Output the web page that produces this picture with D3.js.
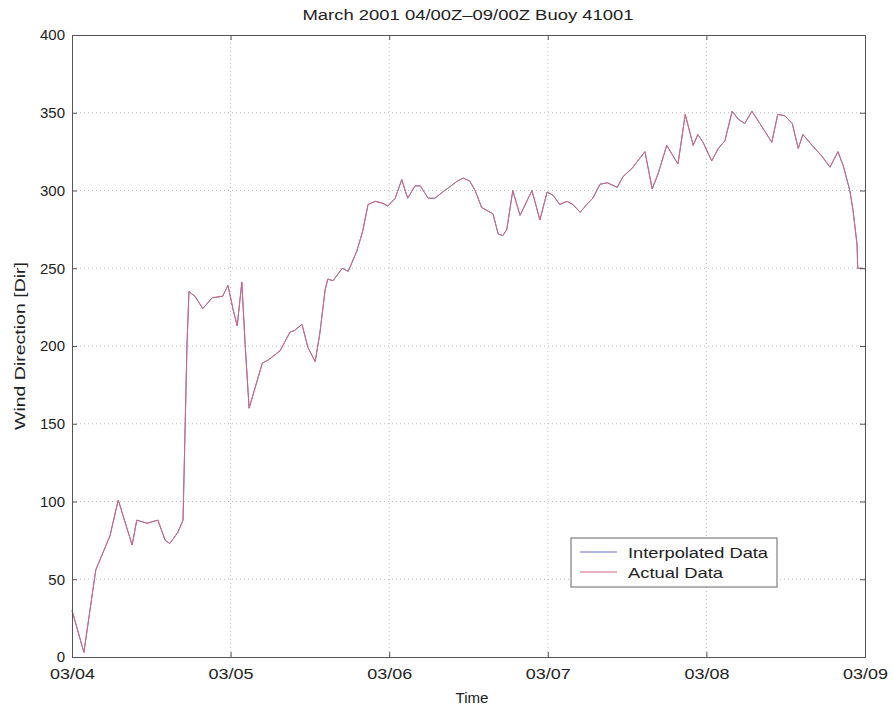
<!DOCTYPE html>
<html>
<head>
<meta charset="utf-8">
<script src="https://cdn.jsdelivr.net/npm/d3@7"></script>
<style>
body{margin:0;background:#fff;}
text{font-family:"Liberation Sans",Arial,sans-serif;fill:#222;}
</style>
</head>
<body>
<svg id="chart" width="893" height="710"></svg>
<script>
// hours since 03/04 00Z
const hours = [0,1.8,3.6,5.75,7.0,9.1,9.8,11.35,13.0,14.1,14.8,16.0,16.8,17.4,17.7,18.6,19.8,21.2,22.8,23.6,24.4,25.0,25.7,26.2,26.8,28.8,29.7,31.5,33.0,33.7,34.8,35.7,36.8,37.5,38.3,38.7,39.5,40.9,41.8,43.1,44.0,44.8,45.9,46.9,47.8,48.9,49.9,50.8,51.9,52.7,53.9,54.9,56.1,58.3,59.2,60.2,61.0,62.0,63.7,64.5,65.2,65.8,66.7,67.8,69.6,70.8,71.9,72.8,73.8,74.9,75.8,76.9,77.9,78.8,79.9,81.0,82.5,83.4,84.7,86.7,87.8,88.7,90.0,91.7,92.8,94.0,94.7,95.5,96.8,97.8,98.8,99.9,100.8,101.8,102.9,104.1,105.9,106.8,107.9,109.0,109.9,110.6,112.0,113.5,114.7,115.9,116.7,117.7,118.2,118.8,118.9,119.7];
const direction = [30,3,56,78,101,72,88,86,88,75,73,80,88,201,235,232,224,231,232,239,223,213,241,201,160,189,191,197,209,210,214,199,190,208,236,243,242,250,248,261,274,291,293,292,290,295,307,295,303,303,295,295,299,306,308,306,300,289,285,272,271,275,300,284,300,281,299,297,291,293,291,286,291,295,304,305,302,309,314,325,301,311,329,317,349,329,336,331,319,327,332,351,346,343,351,343,331,349,348,343,327,336,329,322,315,325,316,300,287,265,250,250];
const xTickHours = [0,24,48,72,96,120];
const xTickLabels = ["03/04","03/05","03/06","03/07","03/08","03/09"];
const yTicks = [0,50,100,150,200,250,300,350,400];
const title = "March 2001 04/00Z\u201309/00Z Buoy 41001";
const legendLabels = ["Interpolated Data","Actual Data"];
const seriesColors = ["#6a6ad0","#d4687c"];

const svg = d3.select("#chart");
const L=72, R=865, T=35, B=657;
const x = d3.scaleLinear().domain([0,120]).range([L,R]);
const y = d3.scaleLinear().domain([0,400]).range([B,T]);

svg.append("rect").attr("x",0).attr("y",0).attr("width",893).attr("height",710).attr("fill","#fff");

// grid
const grid = svg.append("g");
grid.selectAll(".gx").data(xTickHours.slice(1,-1)).join("line")
  .attr("x1",d=>x(d)).attr("x2",d=>x(d)).attr("y1",T).attr("y2",B)
  .attr("stroke","#aaa").attr("stroke-width",0.8).attr("stroke-dasharray","1,3");
grid.selectAll(".gy").data(yTicks.slice(1,-1)).join("line")
  .attr("y1",d=>y(d)).attr("y2",d=>y(d)).attr("x1",L).attr("x2",R)
  .attr("stroke","#aaa").attr("stroke-width",0.8).attr("stroke-dasharray","1,3");

// lines
const line = d3.line().x((d,i)=>x(hours[i])).y(d=>y(d));
svg.append("path").datum(direction).attr("d",line).attr("fill","none")
  .attr("stroke",seriesColors[0]).attr("stroke-width",1);
svg.append("path").datum(direction).attr("d",line).attr("fill","none")
  .attr("stroke",seriesColors[1]).attr("stroke-width",1);

// axes
const ax = d3.axisBottom(x).tickValues(xTickHours).tickFormat((d,i)=>xTickLabels[i]).tickSizeInner(-5).tickSizeOuter(0).tickPadding(11);
const ay = d3.axisLeft(y).tickValues(yTicks).tickSizeInner(-5).tickSizeOuter(0).tickPadding(7);
const axT = d3.axisTop(x).tickValues(xTickHours).tickFormat("").tickSizeInner(-5).tickSizeOuter(0);
const ayR = d3.axisRight(y).tickValues(yTicks).tickFormat("").tickSizeInner(-5).tickSizeOuter(0);
function style(g){
  g.select(".domain").attr("stroke","#555");
  g.selectAll(".tick line").attr("stroke","#555");
  g.selectAll(".tick text").attr("fill","#222").attr("font-size","15px").attr("font-family","'Liberation Sans',Arial,sans-serif");
}
svg.append("g").attr("transform",`translate(0,${B})`).call(ax).call(style)
  .selectAll(".tick text").attr("textLength",45).attr("lengthAdjust","spacingAndGlyphs");
svg.append("g").attr("transform",`translate(${L},0)`).call(ay).call(style);
svg.append("g").attr("transform",`translate(0,${T})`).call(axT).call(style);
svg.append("g").attr("transform",`translate(${R},0)`).call(ayR).call(style);

// texts
svg.append("text").attr("x",468).attr("y",20).attr("text-anchor","middle").attr("font-size","14px")
  .attr("textLength",331).attr("lengthAdjust","spacingAndGlyphs").text(title);
svg.append("text").attr("x",472).attr("y",703).attr("text-anchor","middle").attr("font-size","15px")
  .attr("textLength",33).attr("lengthAdjust","spacingAndGlyphs").text("Time");
svg.append("text").attr("transform","translate(25,346) rotate(-90)").attr("text-anchor","middle").attr("font-size","15px")
  .attr("textLength",168).attr("lengthAdjust","spacingAndGlyphs").text("Wind Direction [Dir]");

// legend
const legendLens = [140,95];
const lg = svg.append("g");
lg.append("rect").attr("x",571).attr("y",538).attr("width",206).attr("height",49)
  .attr("fill","#fff").attr("stroke","#666").attr("stroke-width",1);
legendLabels.forEach((t,i)=>{
  const yy = 552 + i*20;
  lg.append("line").attr("x1",580).attr("x2",617).attr("y1",yy).attr("y2",yy)
    .attr("stroke",seriesColors[i]).attr("stroke-width",1);
  lg.append("text").attr("x",628).attr("y",yy+5.5).attr("font-size","15px")
    .attr("textLength",legendLens[i]).attr("lengthAdjust","spacingAndGlyphs").text(t);
});
</script>
</body>
</html>
